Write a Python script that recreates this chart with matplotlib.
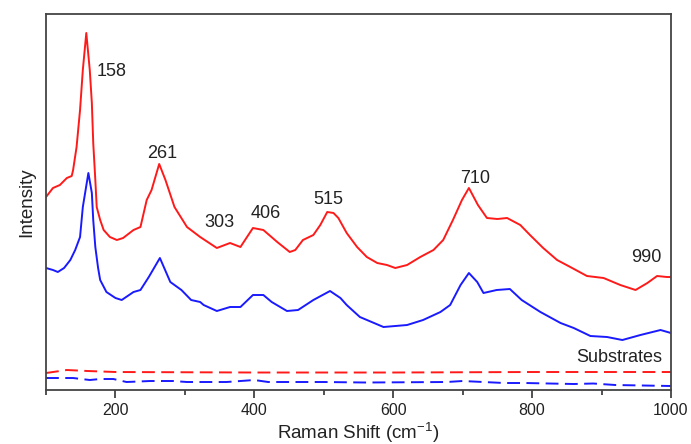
import matplotlib
matplotlib.use("Agg")
import matplotlib.pyplot as plt
import numpy as np

plt.rcParams['font.family'] = ['Liberation Sans', 'DejaVu Sans']
plt.rcParams['mathtext.default'] = 'regular'

# sample spectrum (red)
red_x = [100, 110, 120, 130, 137, 139, 144, 149, 153, 158, 163, 166, 168, 171, 173, 178,
         183, 192, 202, 211,
         226, 236, 245, 252, 263, 272, 285, 303, 322, 346, 365, 380, 398, 413, 433, 451,
         459, 470, 485, 495, 505, 514, 521, 533, 548, 562, 577, 591, 603, 620, 639, 658,
         672, 686, 699, 709, 722, 735, 750, 764, 783, 797, 816, 836, 855, 879, 903, 927,
         949, 966, 980, 994, 1000]
red_y = [193, 202, 205, 212, 214, 220, 243, 280, 320, 357, 320, 287, 247, 210, 183, 170,
         160, 153, 150, 152,
         160, 163, 190, 200, 226, 210, 183, 163, 153, 142, 147, 143, 162, 160, 148, 138,
         140, 150, 155, 165, 178, 177, 172, 157, 143, 133, 127, 125, 122, 125, 133, 140,
         150, 170, 190, 202, 185, 172, 171, 172, 165, 155, 142, 130, 123, 114, 112, 105,
         100, 107, 114, 113, 113]

# second spectrum (blue)
blue_x = [100, 110, 117, 126, 135, 142, 149, 153, 161, 166, 168, 171, 175, 178, 187, 200,
          209, 226, 236, 248, 264, 279, 295, 309, 322, 327, 346, 365, 380, 398, 413, 425,
          447, 463, 485, 509, 524, 533, 552, 586, 620, 643, 668, 682, 697, 709, 721, 730,
          749, 768, 785, 812, 841, 860, 884, 908, 930, 956, 985, 1000]
blue_y = [122, 120, 118, 122, 130, 140, 153, 183, 217, 197, 170, 143, 122, 110, 98, 92,
          90, 98, 100, 113, 132, 108, 100, 90, 88, 85, 79, 83, 83, 95, 95, 88,
          79, 80, 90, 99, 92, 85, 73, 63, 65, 70, 78, 85, 105, 117, 108, 97,
          100, 101, 90, 78, 67, 62, 54, 53, 50, 55, 60, 57]

# substrates (dashed)
sub_red_x = [100, 130, 160, 200, 400, 600, 800, 1000]
sub_red_y = [17, 20, 19, 18, 17.5, 17.5, 18, 18]
sub_blue_x = [100, 139, 163, 178, 197, 216, 250, 283, 303, 360, 400, 420, 500, 560,
              677, 700, 760, 790, 860, 888, 920, 1000]
sub_blue_y = [12, 12, 10, 11, 11, 8, 9, 9, 8, 8, 10, 8, 8, 7.5, 8, 9, 7, 7, 6, 6.5, 5, 4]

peak_labels = ['158', '261', '303', '406', '515', '710', '990']
label_x = [195, 267, 350, 417, 506, 718, 965]
label_y = [318, 236, 167, 176, 190, 211, 133]

fig = plt.figure(figsize=(6.91, 4.44), dpi=100)
ax = fig.add_axes([0.0666, 0.1216, 0.9044, 0.8469])

ax.plot(red_x, red_y, color='#ff1a1a', lw=1.4)
ax.plot(blue_x, blue_y, color='#1a1aff', lw=1.4)
ax.plot(sub_red_x, sub_red_y, color='#ff1a1a', lw=1.4, dashes=[6.6, 3.3])
ax.plot(sub_blue_x, sub_blue_y, color='#1a1aff', lw=1.4, dashes=[6.6, 3.3])

for t, x, y in zip(peak_labels, label_x, label_y):
    ax.text(x, y, t, fontsize=13, color='#222222', ha='center', va='center')
ax.text(987, 33, 'Substrates', fontsize=13, color='#222222', ha='right', va='center')

ax.set_xlim(100, 1000)
ax.set_ylim(0, 376)
ax.set_xticks([200, 400, 600, 800, 1000])
ax.set_xticks([100, 300, 500, 700, 900], minor=True)
ax.set_yticks([])
ax.tick_params(axis='x', which='major', direction='out', length=6, width=1.2,
               labelsize=11.5, colors='#333333', labelcolor='#222222')
ax.tick_params(axis='x', which='minor', direction='out', length=3.5, width=1.2,
               colors='#333333')
for s in ax.spines.values():
    s.set_color('#444444')
    s.set_linewidth(1.3)

ax.set_xlabel('Raman Shift (cm$^{-1}$)', fontsize=13.5, color='#222222', labelpad=2)
ax.set_ylabel('Intensity', fontsize=13.5, color='#222222', labelpad=8)

fig.savefig('out.png', dpi=100)
